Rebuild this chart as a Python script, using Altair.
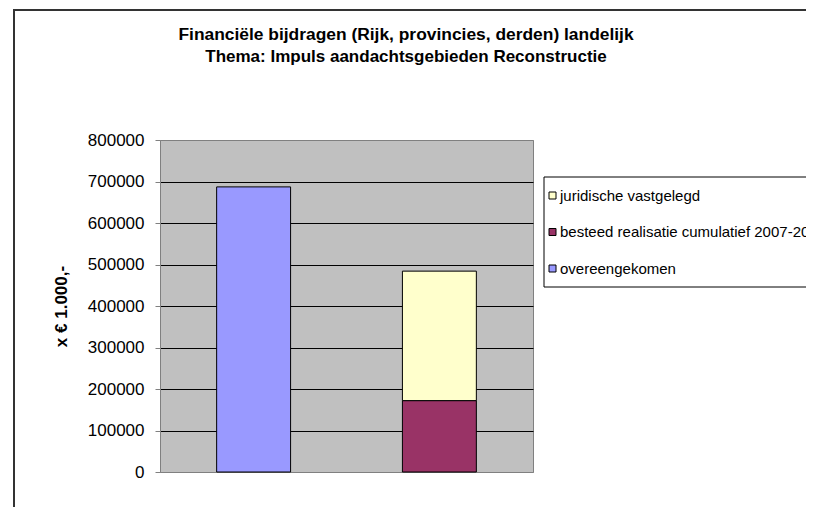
import altair as alt
import pandas as pd

# ---- data ----
categories = ["overeengekomen", "gerealiseerd"]
series = ["overeengekomen",
          "besteed realisatie cumulatief 2007-2008",
          "juridische vastgelegd"]
bar_category = ["overeengekomen", "gerealiseerd", "gerealiseerd"]
values = [687000, 172000, 312000]
stack_order = [0, 0, 1]

legend_order = ["juridische vastgelegd",
                "besteed realisatie cumulatief 2007-2008",
                "overeengekomen"]
legend_colors = ["#FFFFCC", "#993366", "#9999FF"]

y_ticks = [0, 100000, 200000, 300000, 400000, 500000, 600000, 700000, 800000]

title_lines = ["Financiële bijdragen (Rijk, provincies, derden) landelijk",
               "Thema: Impuls aandachtsgebieden Reconstructie"]
y_title = "x € 1.000,-"

FONT = "Liberation Sans"

df = pd.DataFrame({"cat": bar_category, "series": series,
                   "value": values, "ord": stack_order})

bars = alt.Chart(df).mark_bar(stroke="black", strokeWidth=1).encode(
    x=alt.X("cat:N", sort=categories, axis=None,
            scale=alt.Scale(paddingInner=0.602, paddingOuter=0.305)),
    y=alt.Y("value:Q", stack="zero",
            scale=alt.Scale(domain=[0, 800000], nice=False),
            axis=alt.Axis(values=y_ticks, format="d", title=y_title,
                          titleFont=FONT, titleFontSize=17, titleFontWeight="bold",
                          titleColor="black", titlePadding=17,
                          labelFont=FONT, labelFontSize=17, labelColor="black",
                          labelPadding=11, tickSize=5, tickColor="#808080",
                          domainColor="#808080",
                          gridColor={"condition": {"test": "datum.value === 800000 || datum.value === 0",
                                                   "value": "#808080"},
                                     "value": "black"},
                          gridWidth=1)),
    color=alt.Color("series:N",
                    scale=alt.Scale(domain=legend_order, range=legend_colors),
                    legend=alt.Legend(title=None, orient="none", legendX=378, legendY=37,
                                      direction="vertical", symbolType="square",
                                      symbolSize=49, symbolStrokeColor="black",
                                      symbolStrokeWidth=1,
                                      labelFont=FONT, labelFontSize=15,
                                      labelColor="black", labelLimit=600,
                                      labelOffset=0, clipHeight=23,
                                      rowPadding=13.5, padding=7)),
    order=alt.Order("ord:Q"),
)

one = pd.DataFrame({"k": [0]})
frame_left = alt.Chart(one).mark_rule(color="#333333", strokeWidth=2).encode(
    x=alt.value(-146), y=alt.value(-131), y2=alt.value(400))
frame_top = alt.Chart(one).mark_rule(color="#333333", strokeWidth=2).encode(
    x=alt.value(-147), x2=alt.value(700), y=alt.value(-130))
legend_box = alt.Chart(one).mark_rect(fill="white", stroke="black", strokeWidth=1).encode(
    x=alt.value(384), x2=alt.value(700), y=alt.value(37), y2=alt.value(147))

t1 = pd.DataFrame({"t": [title_lines[0]]})
t2 = pd.DataFrame({"t": [title_lines[1]]})
title1 = alt.Chart(t1).mark_text(font=FONT, fontSize=17.4, fontWeight="bold",
                                 color="black", align="center", baseline="middle").encode(
    text="t:N", x=alt.value(246), y=alt.value(-105))
title2 = alt.Chart(t2).mark_text(font=FONT, fontSize=17, fontWeight="bold",
                                 color="black", align="center", baseline="middle").encode(
    text="t:N", x=alt.value(246), y=alt.value(-83))

chart = alt.layer(frame_left, frame_top, legend_box, title1, title2, bars).properties(
    width=373, height=332,
    background="white",
    autosize=alt.AutoSizeParams(type="none"),
    padding={"left": 152, "top": 132, "right": 273, "bottom": 35},
).configure_view(fill="#C0C0C0", stroke="#808080", strokeWidth=1)

chart.save("out.html", embed_options={"renderer": "svg", "actions": False})
